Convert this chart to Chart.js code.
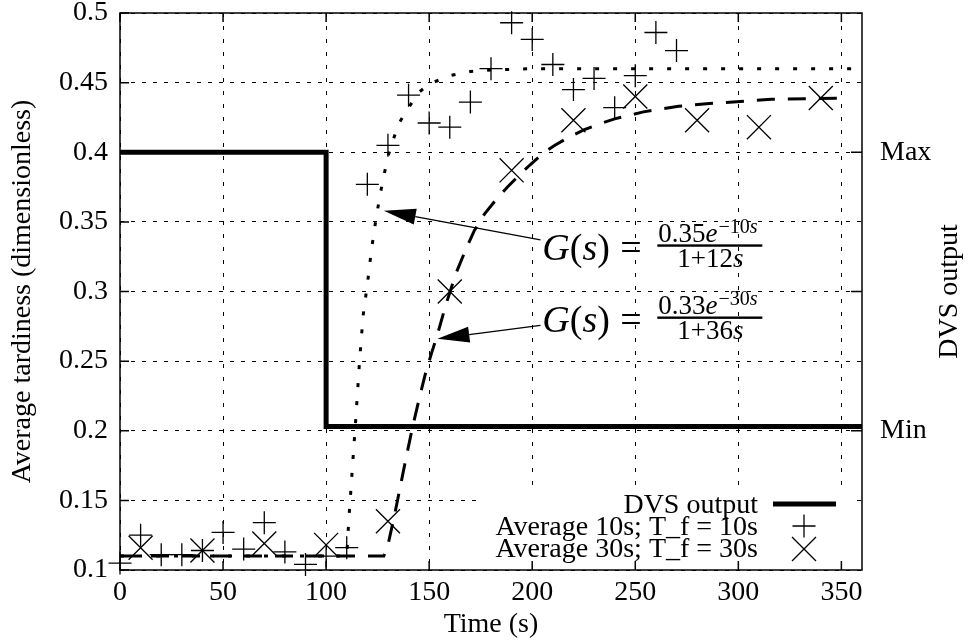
<!DOCTYPE html>
<html>
<head>
<meta charset="utf-8">
<title>Average tardiness vs time</title>
<script src="https://cdn.jsdelivr.net/npm/chart.js@4.4.1/dist/chart.umd.min.js"></script>
<style>
  html, body { margin: 0; padding: 0; background: #fff; }
  #chart { display: block; }
</style>
</head>
<body>
<canvas id="chart" width="970" height="644"></canvas>
<script>
// ---- values ----
const xTicks = [0, 50, 100, 150, 200, 250, 300, 350];
const yTicks = [0.1, 0.15, 0.2, 0.25, 0.3, 0.35, 0.4, 0.45, 0.5];
const y2Ticks = [0.2, 0.3, 0.4];
const y2Labels = ['Min', '', 'Max'];

// DVS output (step from Max down to Min at t = 100 s)
const dvsX = [0, 100, 100, 360];
const dvsY = [0.4, 0.4, 0.203, 0.203];

// Average 10s; T_f = 10s  (+)
const avg10X = [0, 10, 20, 30, 40, 50, 60, 70, 80, 90, 100, 110, 120, 130,
  140, 150, 160, 170, 180, 190, 200, 210, 220, 230, 240, 250, 260, 270];
const avg10Y = [0.105, 0.125, 0.111, 0.111, 0.114, 0.127, 0.115, 0.134, 0.113, 0.104, 0.110, 0.116, 0.377, 0.405,
  0.441, 0.421, 0.418, 0.436, 0.460, 0.493, 0.481, 0.463, 0.445, 0.453, 0.432, 0.455, 0.486, 0.473];

// Average 30s; T_f = 30s  (x)
const avg30X = [10, 40, 70, 100, 130, 160, 190, 220, 250, 280, 310, 340];
const avg30Y = [0.116, 0.114, 0.119, 0.118, 0.135, 0.300, 0.387, 0.423, 0.440, 0.423, 0.418, 0.439];

// fitted response, 0.35e^-10s/(1+12s)  (dotted)
const fit10X = [0, 110, 111, 112, 113, 114, 115, 116, 117, 118, 120, 122, 124, 126, 128, 130,
  135, 140, 145, 150, 155, 160, 170, 180, 200, 250, 300, 356];
const fit10Y = [0.110, 0.110, 0.136, 0.157, 0.179, 0.200, 0.222, 0.245, 0.265, 0.283, 0.305, 0.330, 0.350, 0.368, 0.383, 0.397,
  0.420, 0.432, 0.443, 0.449, 0.452, 0.455, 0.458, 0.459, 0.460, 0.460, 0.460, 0.460];

// fitted response, 0.33e^-30s/(1+36s)  (dashed)
const fit30X = [0, 128, 130, 133, 136, 139, 142, 145, 148, 151, 154, 158, 163, 168, 172, 177,
  183, 188, 194, 199, 205, 211, 218, 225, 232, 240, 254, 271, 286, 316, 353];
const fit30Y = [0.110, 0.110, 0.118, 0.138, 0.160, 0.182, 0.203, 0.222, 0.240, 0.255, 0.269, 0.290, 0.313, 0.331, 0.344, 0.356,
  0.367, 0.375, 0.384, 0.391, 0.399, 0.405, 0.411, 0.416, 0.420, 0.424, 0.429, 0.433, 0.435, 0.438, 0.439];

const SERIF = "'Liberation Serif', 'Times New Roman', serif";
const pts = (xs, ys) => xs.map((x, i) => ({ x: x, y: ys[i] }));

Chart.defaults.font.family = SERIF;
Chart.defaults.color = '#000';

function text(ctx, t, x, y, size, italic) {
  ctx.font = (italic ? 'italic ' : '') + size + 'px ' + SERIF;
  ctx.fillText(t, x, y);
  return ctx.measureText(t).width;
}

function arrow(ctx, x1, y1, x2, y2) {
  const a = Math.atan2(y2 - y1, x2 - x1);
  const L = 32, W = 8;
  const bx = x2 - L * Math.cos(a), by = y2 - L * Math.sin(a);
  ctx.lineWidth = 1.3;
  ctx.beginPath(); ctx.moveTo(x1, y1); ctx.lineTo(bx, by); ctx.stroke();
  ctx.beginPath();
  ctx.moveTo(x2, y2);
  ctx.lineTo(bx + W * Math.sin(a), by - W * Math.cos(a));
  ctx.lineTo(bx - W * Math.sin(a), by + W * Math.cos(a));
  ctx.closePath(); ctx.fill();
}

// G(s) = num e^{sup} / den
function formula(ctx, left, bar, num, sup, den) {
  ctx.textAlign = 'left';
  ctx.textBaseline = 'alphabetic';
  const gb = bar + 14.5;
  let cx = left;
  cx += text(ctx, 'G', cx, gb, 38, true);
  cx += text(ctx, '(', cx, gb, 38, false);
  cx += text(ctx, 's', cx, gb, 38, true);
  text(ctx, ')', cx, gb, 38, false);
  text(ctx, '=', left + 78, gb, 38, false);
  ctx.fillRect(left + 115, bar - 1.2, 105, 2.4);
  let nx = left + 116;
  nx += text(ctx, num, nx, bar - 3.5, 27, false);
  nx += text(ctx, 'e', nx, bar - 3.5, 27, true);
  nx += text(ctx, sup, nx + 1, bar - 13, 20, false);
  text(ctx, 's', nx + 1, bar - 13, 20, true);
  ctx.font = '27px ' + SERIF;
  const w1 = ctx.measureText(den).width;
  ctx.font = 'italic 27px ' + SERIF;
  const w2 = ctx.measureText('s').width;
  let dx = left + 168 - (w1 + w2) / 2;
  dx += text(ctx, den, dx, bar + 21, 27, false);
  text(ctx, 's', dx, bar + 21, 27, true);
}

const overlay = {
  id: 'overlay',
  beforeDatasetsDraw(chart) {
    const { ctx, chartArea: ca } = chart;
    // key background hides the grid behind it
    ctx.save();
    ctx.fillStyle = '#fff';
    ctx.fillRect(ca.left + 358, ca.bottom - 80, 372, 79);
    ctx.restore();
  },
  afterDatasetsDraw(chart) {
    const { ctx, chartArea: ca, scales } = chart;
    const x = scales.x, y = scales.y;
    ctx.save();
    ctx.strokeStyle = '#000';
    ctx.fillStyle = '#000';

    // inner tick marks
    ctx.lineWidth = 1.5;
    ctx.beginPath();
    xTicks.forEach(v => {
      const px = x.getPixelForValue(v);
      ctx.moveTo(px, ca.bottom); ctx.lineTo(px, ca.bottom - 9);
      ctx.moveTo(px, ca.top); ctx.lineTo(px, ca.top + 9);
    });
    yTicks.forEach(v => {
      const py = y.getPixelForValue(v);
      ctx.moveTo(ca.left, py); ctx.lineTo(ca.left + 9, py);
    });
    y2Ticks.forEach(v => {
      const py = scales.y2.getPixelForValue(v);
      ctx.moveTo(ca.right, py); ctx.lineTo(ca.right - 11, py);
    });
    ctx.stroke();
    ctx.strokeRect(ca.left, ca.top, ca.right - ca.left, ca.bottom - ca.top);

    // key
    const names = chart.data.datasets.filter(d => d.inKey).map(d => d.label);
    const tr = ca.right - 104, sx = ca.right - 58;
    const rows = [ca.bottom - 57, ca.bottom - 35, ca.bottom - 13];
    ctx.textAlign = 'right';
    ctx.textBaseline = 'alphabetic';
    names.forEach((n, i) => text(ctx, n, tr, rows[i], 28, false));
    ctx.lineWidth = 5;
    ctx.beginPath(); ctx.moveTo(ca.right - 89, rows[0] - 9); ctx.lineTo(ca.right - 26, rows[0] - 9); ctx.stroke();
    ctx.lineWidth = 1.3;
    ctx.beginPath();
    ctx.moveTo(sx - 11.5, rows[1] - 9); ctx.lineTo(sx + 11.5, rows[1] - 9);
    ctx.moveTo(sx, rows[1] - 20.5); ctx.lineTo(sx, rows[1] + 2.5);
    ctx.moveTo(sx - 12, rows[2] - 20); ctx.lineTo(sx + 12, rows[2] + 4);
    ctx.moveTo(sx - 12, rows[2] + 4); ctx.lineTo(sx + 12, rows[2] - 20);
    ctx.stroke();

    // annotations
    arrow(ctx, x.getPixelForValue(204), y.getPixelForValue(0.337), x.getPixelForValue(128), y.getPixelForValue(0.358));
    arrow(ctx, x.getPixelForValue(204), y.getPixelForValue(0.2757), x.getPixelForValue(154), y.getPixelForValue(0.266));
    const fl = x.getPixelForValue(204.9);
    formula(ctx, fl, y.getPixelForValue(0.333), '0.35', '\u221210', '1+12');
    formula(ctx, fl, y.getPixelForValue(0.2812), '0.33', '\u221230', '1+36');

    // right axis title
    ctx.translate(950, (ca.top + ca.bottom) / 2);
    ctx.rotate(-Math.PI / 2);
    ctx.textAlign = 'center';
    ctx.textBaseline = 'middle';
    text(ctx, 'DVS output', 0, 0, 28, false);
    ctx.restore();
  }
};

const tickFont = { family: SERIF, size: 28 };

new Chart(document.getElementById('chart'), {
  type: 'scatter',
  data: {
    datasets: [
      { label: 'DVS output', inKey: true, data: pts(dvsX, dvsY), showLine: true, borderColor: '#000',
        borderWidth: 5, pointRadius: 0, tension: 0, borderJoinStyle: 'miter', yAxisID: 'y' },
      { label: 'fit 10s', data: pts(fit10X, fit10Y), showLine: true, borderColor: '#000', borderWidth: 3,
        borderDash: [4, 14], pointRadius: 0, tension: 0, yAxisID: 'y' },
      { label: 'fit 30s', data: pts(fit30X, fit30Y), showLine: true, borderColor: '#000', borderWidth: 3,
        borderDash: [18, 13], pointRadius: 0, tension: 0, yAxisID: 'y' },
      { label: 'Average 10s; T_f = 10s', inKey: true, data: pts(avg10X, avg10Y), pointStyle: 'cross',
        pointRadius: 11.5, pointBorderWidth: 1.3, borderColor: '#000', backgroundColor: '#000', clip: false, yAxisID: 'y' },
      { label: 'Average 30s; T_f = 30s', inKey: true, data: pts(avg30X, avg30Y), pointStyle: 'crossRot',
        pointRadius: 17, pointBorderWidth: 1.3, borderColor: '#000', backgroundColor: '#000', clip: false, yAxisID: 'y' }
    ]
  },
  options: {
    responsive: false,
    animation: false,
    devicePixelRatio: 1,
    events: [],
    layout: { autoPadding: false, padding: { top: 13, left: 0, right: 0, bottom: 0 } },
    plugins: { legend: { display: false }, tooltip: { enabled: false } },
    scales: {
      x: {
        type: 'linear', min: 0, max: 360,
        afterBuildTicks: s => { s.ticks = xTicks.map(v => ({ value: v })); },
        afterFit: s => { s.height = 74; },
        grid: { color: '#000', lineWidth: 1, drawTicks: false },
        border: { display: false, dash: [4, 9] },
        ticks: { color: '#000', font: tickFont, padding: 6, maxRotation: 0, autoSkip: false },
        title: { display: true, text: 'Time (s)', color: '#000', font: tickFont, padding: { top: 0, bottom: 3 } }
      },
      y: {
        type: 'linear', position: 'left', min: 0.1, max: 0.5,
        afterBuildTicks: s => { s.ticks = yTicks.map(v => ({ value: v })); },
        afterFit: s => { s.width = 120; s.paddingTop = 0; s.paddingBottom = 0; },
        grid: { color: '#000', lineWidth: 1, drawTicks: false },
        border: { display: false, dash: [4, 7] },
        ticks: { color: '#000', font: tickFont, padding: 12, autoSkip: false,
          callback: v => String(Number(v.toFixed(2))) },
        title: { display: true, text: 'Average tardiness (dimensionless)', color: '#000', font: tickFont,
          padding: { top: 6, bottom: 0 } }
      },
      y2: {
        type: 'linear', position: 'right', min: 0.1, max: 0.5,
        afterBuildTicks: s => { s.ticks = y2Ticks.map(v => ({ value: v })); },
        afterFit: s => { s.width = 108; s.paddingTop = 0; s.paddingBottom = 0; },
        grid: { display: false, drawTicks: false },
        border: { display: false },
        ticks: { color: '#000', font: tickFont, padding: 18, autoSkip: false,
          callback: (v, i) => y2Labels[i] }
      }
    }
  },
  plugins: [overlay]
});
</script>
</body>
</html>
